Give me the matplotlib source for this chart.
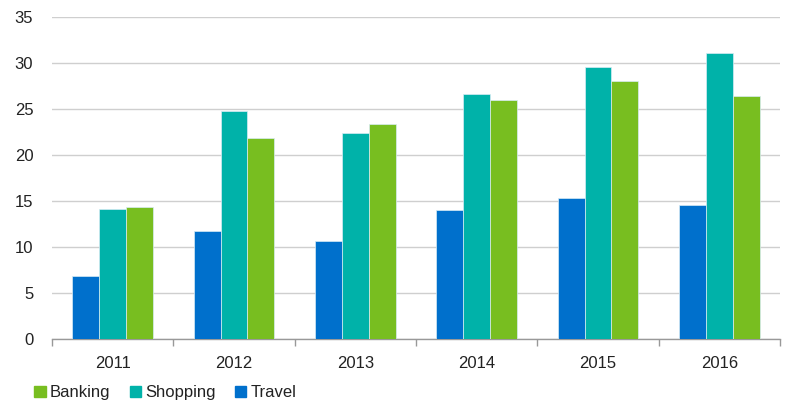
import matplotlib
matplotlib.use("Agg")
import matplotlib.pyplot as plt
import numpy as np
from matplotlib.patches import Patch

years = ["2011", "2012", "2013", "2014", "2015", "2016"]
travel = [6.9, 11.7, 10.7, 14.0, 15.3, 14.6]
shopping = [14.1, 24.8, 22.4, 26.6, 29.6, 31.1]
banking = [14.3, 21.9, 23.4, 26.0, 28.0, 26.4]
series_names = ["Travel", "Shopping", "Banking"]
colors = {"Travel": "#0070CC", "Shopping": "#00B2A9", "Banking": "#78BE20"}

plt.rcParams['font.family'] = ['Liberation Sans', 'DejaVu Sans']

fig = plt.figure(figsize=(7.88, 4.03), dpi=100)
ax = fig.add_axes([52/788, 64/403, 728/788, 322/403])

x = np.arange(len(years))
w = 0.222
for i, (name, vals) in enumerate(zip(series_names, [travel, shopping, banking])):
    ax.bar(x + (i - 1) * w, vals, width=w, color=colors[name],
           edgecolor="#d8ecf5", linewidth=0.5, zorder=3)

ax.set_xlim(-0.5, len(years) - 0.5)
ax.set_ylim(0, 35)
ax.set_yticks(np.arange(0, 36, 5))
ax.yaxis.grid(True, color="#cfcfcf", linewidth=1.0, zorder=0)
ax.set_axisbelow(True)

for s in ["top", "right", "left"]:
    ax.spines[s].set_visible(False)
ax.spines["bottom"].set_color("#999999")
ax.spines["bottom"].set_linewidth(1.0)

txtc = "#222222"
ax.set_xticks(x)
ax.set_xticklabels(years)
ax.tick_params(axis="x", which="major", length=0, pad=12, labelsize=12, labelcolor=txtc)
ax.set_xticks(np.arange(-0.5, len(years)), minor=True)
ax.tick_params(axis="x", which="minor", length=5, color="#999999", width=1)
ax.tick_params(axis="y", length=0, pad=13.5, labelsize=12, labelcolor=txtc)

handles = [Patch(color=colors[n]) for n in ["Banking", "Shopping", "Travel"]]
leg = fig.legend(handles, ["Banking", "Shopping", "Travel"], loc="lower left",
           bbox_to_anchor=(0.031, -0.018), ncol=3, frameon=False, fontsize=12,
           handlelength=0.68, handleheight=0.68, handletextpad=0.25, columnspacing=1.15,
           borderaxespad=0.2)
for t in leg.get_texts():
    t.set_color(txtc)

fig.savefig("out.png", dpi=100)
